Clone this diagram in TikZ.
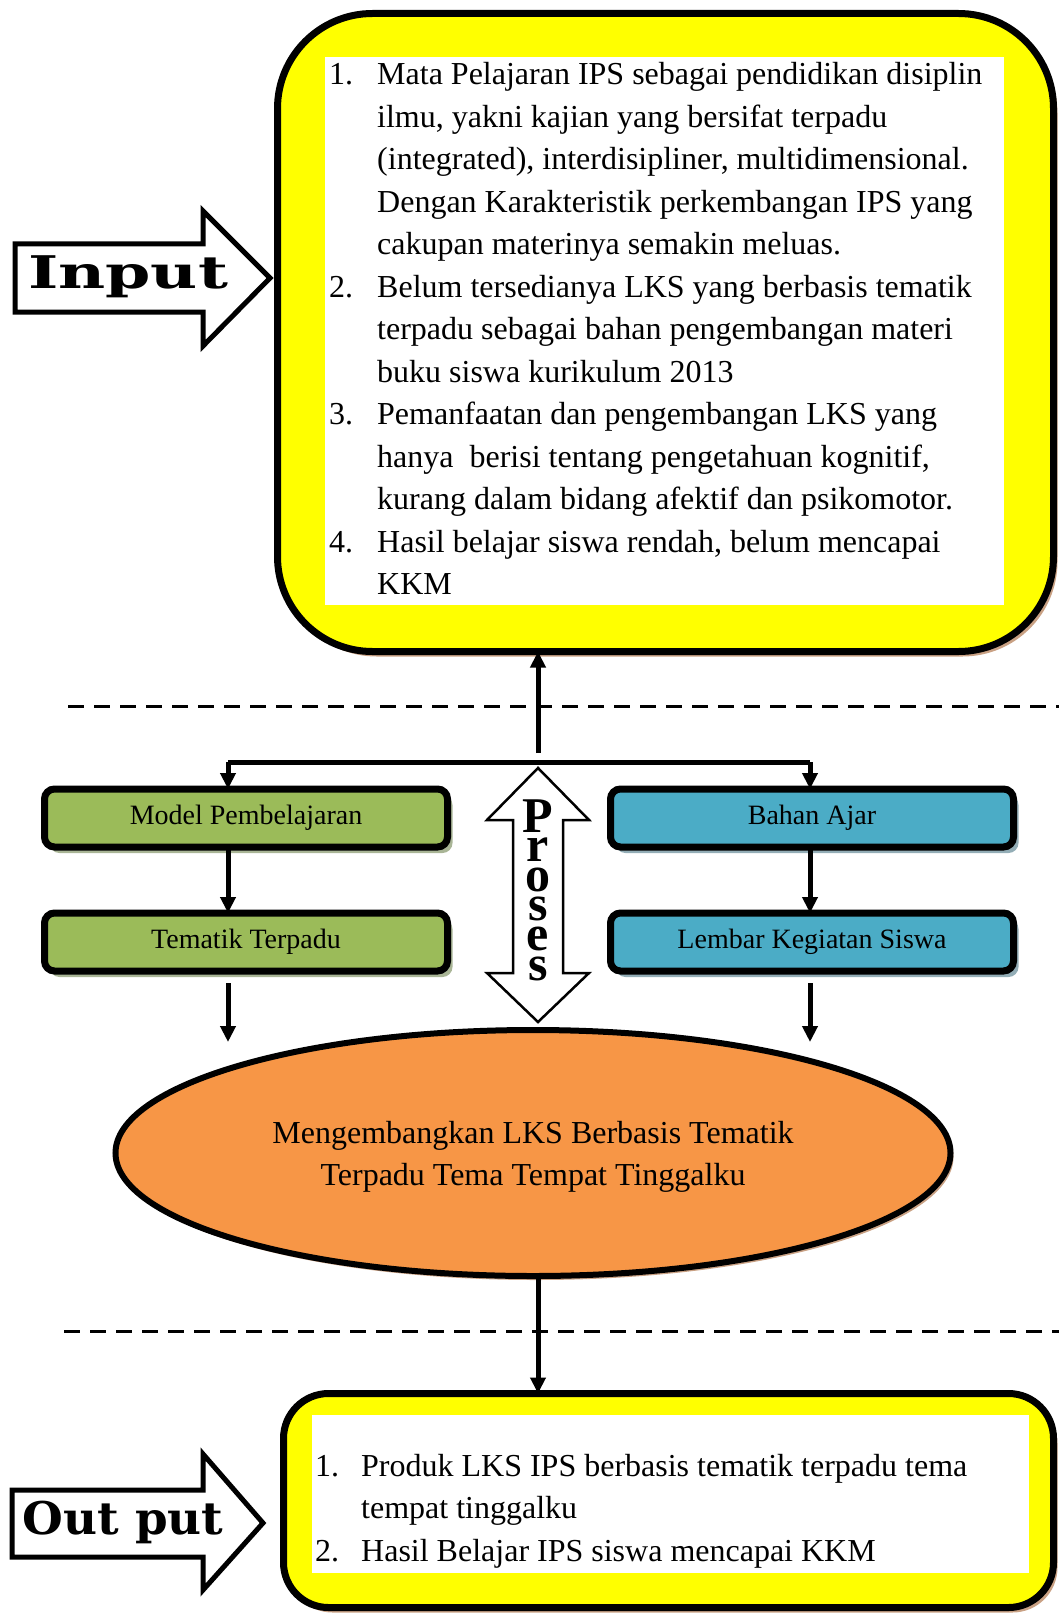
\documentclass[tikz,border=0pt]{standalone}
\usepackage{fontspec}
\setmainfont{Liberation Serif}
\newfontfamily\labelfont{DejaVu Serif}
\usepackage{graphicx}
\usetikzlibrary{shapes.geometric,shadows,arrows.meta}
\definecolor{boxyellow}{HTML}{FFFF00}
\definecolor{tanshadow}{HTML}{C9A184}
\definecolor{modelgreen}{HTML}{9BBB59}
\definecolor{greenshadow}{HTML}{A9B596}
\definecolor{ajarblue}{HTML}{4BACC6}
\definecolor{blueshadow}{HTML}{93ADB6}
\definecolor{ellorange}{HTML}{F79646}

\begin{document}
\begin{tikzpicture}[x=1pt,y=-1pt,
  conn/.style={line width=5pt},
  arr/.style={conn,-{Triangle[length=16pt,width=15pt]}},
  sep/.style={line width=3pt,dash pattern=on 16pt off 10pt},
  bigbox/.style={draw,line width=7pt,fill=boxyellow,inner sep=0pt,outer sep=0pt,
    drop shadow={shadow xshift=4pt,shadow yshift=-5pt,fill=tanshadow,opacity=1}},
  whitepanel/.style={fill=white,inner sep=0pt,outer sep=0pt},
  stepbox/.style={draw,line width=7pt,rounded corners=10pt,inner sep=0pt,outer sep=0pt,
    minimum width=403pt,minimum height=58pt,font=\fontsize{28}{34}\selectfont},
  greenbox/.style={stepbox,fill=modelgreen,
    drop shadow={shadow xshift=5pt,shadow yshift=-6pt,fill=greenshadow,opacity=1}},
  bluebox/.style={stepbox,fill=ajarblue,
    drop shadow={shadow xshift=5pt,shadow yshift=-6pt,fill=blueshadow,opacity=1}},
  bigarrow/.style={draw,line width=5pt,fill=white,miter limit=10},
  bigword/.style={font=\labelfont\bfseries\fontsize{45}{50}\selectfont,inner sep=0pt},
  bodytext/.style={font=\fontsize{32}{42.5}\selectfont,inner sep=0pt}
]
\useasboundingbox (0,0) rectangle (1059,1613);

% ---------- Input ----------
\node[bigbox,rounded corners=95pt,minimum width=776pt,minimum height=638pt]
  (inputbox) at (665.5,332.5) {};
\node[whitepanel,minimum width=679pt,minimum height=548pt] (inputpanel) at (664.5,331) {};
\node[bodytext,anchor=base west] (inputtext) at (329,85) {%
\fontsize{32}{42.5}\selectfont
\begin{tabular}[t]{@{}p{48pt}@{}l@{}}
1. & Mata Pelajaran IPS sebagai pendidikan disiplin\\
   & ilmu, yakni kajian yang bersifat terpadu\\
   & (integrated), interdisipliner, multidimensional.\\
   & Dengan Karakteristik perkembangan IPS yang\\
   & cakupan materinya semakin meluas.\\
2. & Belum tersedianya LKS yang berbasis tematik\\
   & terpadu sebagai bahan pengembangan materi\\
   & buku siswa kurikulum 2013\\
3. & Pemanfaatan dan pengembangan LKS yang\\
   & hanya\ \ berisi tentang pengetahuan kognitif,\\
   & kurang dalam bidang afektif dan psikomotor.\\
4. & Hasil belajar siswa rendah, belum mencapai\\
   & KKM
\end{tabular}};

\draw[bigarrow] (15,244) -- (203,244) -- (203,211) -- (270,278) -- (203,346)
  -- (203,312) -- (15,312) -- cycle;
\node[bigword] (inputlabel) at (128,277) {\resizebox{200pt}{\height}{Input}};

% ---------- separators ----------
\draw[sep] (68,706) -- (1059,706);
\draw[sep] (64,1331) -- (1059,1331);

% ---------- Proses ----------
\node[greenbox] (model) at (246,818) {Model Pembelajaran};
\node[greenbox] (tematik) at (246,942) {Tematik Terpadu};
\node[bluebox] (ajar) at (812,818) {Bahan Ajar};
\node[bluebox] (lks) at (812,942) {Lembar Kegiatan Siswa};

\node[ellipse,draw,line width=6pt,fill=ellorange,minimum width=835pt,minimum height=246pt,
  inner sep=0pt,outer sep=0pt,
  drop shadow={shadow xshift=3pt,shadow yshift=-4pt,fill=tanshadow,opacity=1}]
  (develop) at (533,1153) {};
\node[align=center,font=\fontsize{32}{42.5}\selectfont,inner sep=0pt] (developtext)
  at (533,1157) {Mengembangkan LKS Berbasis Tematik\\Terpadu Tema Tempat Tinggalku};

\draw[line width=2.5pt,fill=white,miter limit=10] (538,768) -- (589,820) -- (563,820)
  -- (563,973) -- (589,973) -- (538,1022) -- (487,973) -- (513,973) -- (513,820)
  -- (487,820) -- cycle;
\node[align=center,inner sep=0pt,font=\bfseries\fontsize{50}{29.6}\selectfont]
  (proses) at (538,890) {P\\r\\o\\s\\e\\s};

\coordinate (hub) at (538,753);
\coordinate (leftend) at (228,762);
\coordinate (rightend) at (810,762);
\coordinate (leftfrom) at (228,983);
\coordinate (leftto) at (228,1042);
\coordinate (rightfrom) at (810,983);
\coordinate (rightto) at (810,1042);

\draw[arr] (hub) -- (hub |- inputbox.south);
\draw[conn] (leftend) -- (rightend);
\draw[arr] (leftend) -- (leftend |- model.north);
\draw[arr] (rightend) -- (rightend |- ajar.north);
\draw[arr] (leftend |- model.south) -- (leftend |- tematik.north);
\draw[arr] (rightend |- ajar.south) -- (rightend |- lks.north);
\draw[arr] (leftfrom) -- (leftto);
\draw[arr] (rightfrom) -- (rightto);

% ---------- Output ----------
\node[bigbox,rounded corners=45pt,minimum width=770pt,minimum height=214pt]
  (outputbox) at (668.5,1500.5) {};
\node[whitepanel,minimum width=717pt,minimum height=158pt] (outputpanel) at (670.5,1494) {};
\node[bodytext,anchor=base west] (outputtext) at (315,1476) {%
\fontsize{32}{42.5}\selectfont
\begin{tabular}[t]{@{}p{46pt}@{}l@{}}
1. & Produk LKS IPS berbasis tematik terpadu tema\\
   & tempat tinggalku\\
2. & Hasil Belajar IPS siswa mencapai KKM
\end{tabular}};

\draw[arr] (develop.south -| hub) -- (hub |- outputbox.north);

\draw[bigarrow] (12,1490) -- (203,1490) -- (203,1454) -- (263,1523) -- (203,1590)
  -- (203,1557) -- (12,1557) -- cycle;
\node[bigword] (outputlabel) at (123,1522) {\resizebox{201pt}{\height}{Out put}};
\end{tikzpicture}
\end{document}
